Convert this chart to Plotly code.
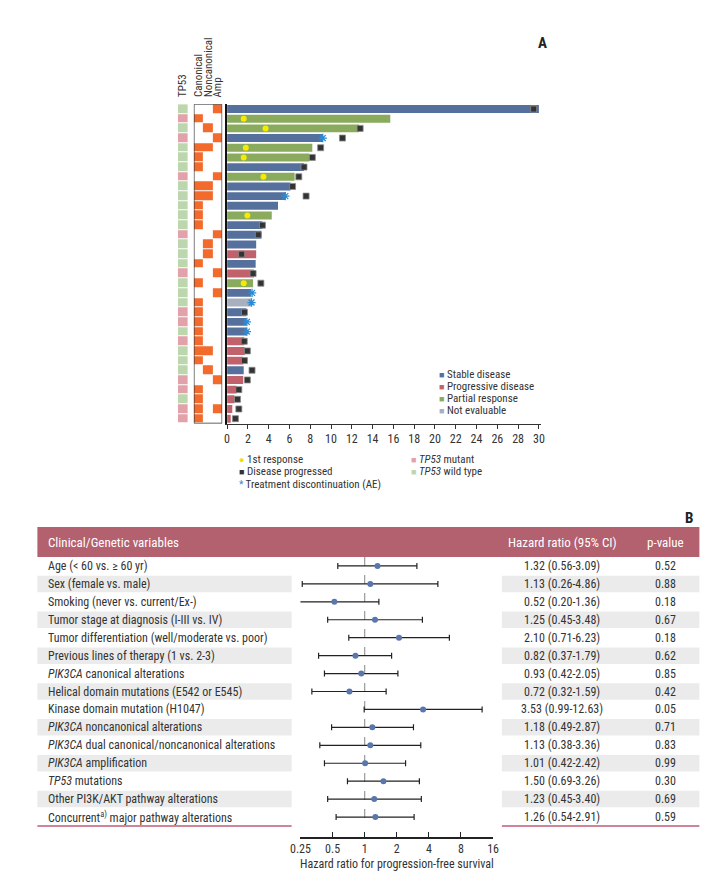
import math
import plotly.graph_objects as go

W, H = 723, 892
FONT = "Liberation Sans Narrow, Arial Narrow, Roboto Condensed, Liberation Sans, sans-serif"


def px(x):
    return x / W


def py(y):
    return 1 - y / H


# ---------------- Panel A data ----------------
rows = list(range(1, 34))
duration = [30.0, 15.7, 12.7, 9.2, 8.2, 7.9, 7.4, 6.5, 6.1, 5.6, 4.9, 4.3, 3.4, 3.3, 2.8, 2.8,
            2.75, 2.6, 2.5, 2.3, 2.3, 1.85, 1.85, 1.9, 1.65, 1.7, 1.55, 1.6, 1.55, 0.9, 0.7, 0.5, 0.35]
response = ['SD', 'PR', 'PR', 'SD', 'PR', 'PR', 'SD', 'PR', 'SD', 'SD', 'SD', 'PR', 'SD', 'SD', 'SD', 'PD',
            'SD', 'PD', 'PR', 'SD', 'NE', 'SD', 'SD', 'SD', 'PD', 'PD', 'PD', 'SD', 'PD', 'PD', 'PD', 'PD', 'PD']
first_response = [None, 1.6, 3.7, None, 1.8, 1.6, None, 3.5, None, None, None, 1.95, None, None, None, None,
                  None, None, 1.6, None, None, None, None, None, None, None, None, None, None, None, None, None, None]
progressed = [29.5, None, 12.8, 11.1, 9.0, 8.2, 7.4, 6.9, 6.3, 7.6, None, None, 3.4, 3.0, None, 1.4,
              None, 2.5, 3.25, None, None, 1.67, None, None, 1.65, 1.95, 1.67, 2.4, 1.95, 1.13, 1.0, 1.13, 0.8]
discontinued = [None, None, None, 9.2, None, None, None, None, None, 5.6, None, None, None, None, None, None,
                None, None, None, 2.4, 2.35, None, 1.9, 1.9, None, None, None, None, None, None, None, None, None]
tp53 = ['W', 'M', 'W', 'M', 'W', 'W', 'W', 'M', 'W', 'W', 'W', 'W', 'W', 'M', 'W', 'W',
        'W', 'M', 'W', 'W', 'W', 'M', 'M', 'W', 'M', 'W', 'W', 'W', 'M', 'M', 'W', 'M', 'M']
canonical = [0, 1, 0, 0, 1, 1, 1, 0, 1, 1, 1, 1, 1, 0, 0, 0,
             1, 0, 1, 0, 1, 1, 1, 1, 1, 1, 1, 0, 0, 1, 1, 1, 1]
noncanonical = [0, 0, 1, 0, 1, 0, 0, 0, 1, 1, 0, 0, 0, 0, 1, 1,
                0, 0, 0, 0, 0, 0, 0, 0, 0, 1, 0, 1, 0, 0, 0, 0, 0]
amp = [1, 0, 0, 1, 0, 0, 0, 1, 0, 0, 0, 0, 0, 1, 0, 0,
       0, 1, 0, 1, 0, 0, 0, 0, 0, 0, 0, 0, 1, 0, 0, 1, 0]
alt_columns = ["Canonical", "Noncanonical", "Amp"]
x_ticks_a = list(range(0, 31, 2))

resp_order = ['SD', 'PD', 'PR', 'NE']
resp_names = {'SD': 'Stable disease', 'PD': 'Progressive disease',
              'PR': 'Partial response', 'NE': 'Not evaluable'}
resp_colors = {'SD': '#56709e', 'PD': '#c0616c', 'PR': '#8aaa5d', 'NE': '#a8b0c0'}
TP53_MUT = '#e2a2aa'
TP53_WT = '#bcd6ae'
ORANGE = '#f26a2c'
AE_BLUE = '#2a8bd6'

# ---------------- Panel B data ----------------
variables = [
    "Age (< 60 vs. ≥ 60 yr)",
    "Sex (female vs. male)",
    "Smoking (never vs. current/Ex-)",
    "Tumor stage at diagnosis (I-III vs. IV)",
    "Tumor differentiation (well/moderate vs. poor)",
    "Previous lines of therapy (1 vs. 2-3)",
    "<i>PIK3CA</i> canonical alterations",
    "Helical domain mutations (E542 or E545)",
    "Kinase domain mutation (H1047)",
    "<i>PIK3CA</i> noncanonical alterations",
    "<i>PIK3CA</i> dual canonical/noncanonical alterations",
    "<i>PIK3CA</i> amplification",
    "<i>TP53</i> mutations",
    "Other PI3K/AKT pathway alterations",
    "Concurrent<sup>a)</sup> major pathway alterations",
]
hr = [1.32, 1.13, 0.52, 1.25, 2.10, 0.82, 0.93, 0.72, 3.53, 1.18, 1.13, 1.01, 1.50, 1.23, 1.26]
ci_low = [0.56, 0.26, 0.20, 0.45, 0.71, 0.37, 0.42, 0.32, 0.99, 0.49, 0.38, 0.42, 0.69, 0.45, 0.54]
ci_high = [3.09, 4.86, 1.36, 3.48, 6.23, 1.79, 2.05, 1.59, 12.63, 2.87, 3.36, 2.42, 3.26, 3.40, 2.91]
p_values = ["0.52", "0.88", "0.18", "0.67", "0.18", "0.62", "0.85", "0.42", "0.05", "0.71",
            "0.83", "0.99", "0.30", "0.69", "0.59"]
hr_ticks = [0.25, 0.5, 1, 2, 4, 8, 16]
hr_ticktext = ["0.25", "0.5", "1", "2", "4", "8", "16"]

fig = go.Figure()

# ---- bars ----
for key in resp_order:
    ys = [r for r, s in zip(rows, response) if s == key]
    xs = [d for d, s in zip(duration, response) if s == key]
    fig.add_trace(go.Bar(x=xs, y=ys, orientation='h', width=0.82,
                         marker=dict(color=resp_colors[key], line=dict(width=0)),
                         name=resp_names[key], xaxis='x', yaxis='y', hoverinfo='skip'))

fig.add_trace(go.Scatter(x=progressed, y=rows, mode='markers', xaxis='x', yaxis='y',
                         marker=dict(symbol='square', size=6, color='#333333',
                                     line=dict(color='#8c8c8c', width=0.8)),
                         name='Disease progressed', hoverinfo='skip'))
fig.add_trace(go.Scatter(x=first_response, y=rows, mode='markers', xaxis='x', yaxis='y',
                         marker=dict(symbol='circle', size=6, color='#f7ea00'),
                         name='1st response', hoverinfo='skip'))
fig.add_trace(go.Scatter(x=discontinued, y=rows, mode='markers', xaxis='x', yaxis='y',
                         marker=dict(symbol='asterisk-open', size=7, color=AE_BLUE,
                                     line=dict(color=AE_BLUE, width=1.3)),
                         name='Treatment discontinuation (AE)', hoverinfo='skip'))

# ---- TP53 column ----
tp53_z = [[1 if s == 'M' else 0] for s in tp53]
fig.add_trace(go.Heatmap(z=tp53_z, x=[0], y=rows, xaxis='x2', yaxis='y', zmin=0, zmax=1,
                         colorscale=[[0, TP53_WT], [0.5, TP53_WT], [0.5, TP53_MUT], [1, TP53_MUT]],
                         showscale=False, ygap=1, hoverinfo='skip'))

# ---- alteration matrix ----
alt_z = [[c, n, a] for c, n, a in zip(canonical, noncanonical, amp)]
fig.add_trace(go.Heatmap(z=alt_z, x=[0, 1, 2], y=rows, xaxis='x3', yaxis='y', zmin=0, zmax=1,
                         colorscale=[[0, 'white'], [0.5, 'white'], [0.5, ORANGE], [1, ORANGE]],
                         showscale=False, ygap=1, hoverinfo='skip'))

# ---- forest plot ----
frows = list(range(1, len(variables) + 1))
fig.add_trace(go.Scatter(x=hr, y=frows, mode='markers', xaxis='x4', yaxis='y4',
                         marker=dict(size=6, color='#5a77ad'),
                         error_x=dict(type='data', symmetric=False,
                                      array=[h - m for h, m in zip(ci_high, hr)],
                                      arrayminus=[m - l for m, l in zip(hr, ci_low)],
                                      color='#222222', thickness=1.2, width=3),
                         hoverinfo='skip'))

# ---------------- layout ----------------
X025, X16 = 297, 494
LEFT_END, RIGHT_START, RIGHT_END, TAB_LEFT = 288, 503, 705, 28
HR_X, P_X = 565, 670
ROW_TOP, ROW_BOT = 557, 826

shapes = []
annotations = []

# alteration box frame
shapes.append(dict(type='rect', xref='x3', yref='y', x0=-0.5, x1=2.5, y0=0.5, y1=len(rows) + 0.5,
                   line=dict(color='#333333', width=1.3), fillcolor='rgba(0,0,0,0)', layer='above'))

# header band of table
shapes.append(dict(type='rect', xref='paper', yref='paper', x0=px(TAB_LEFT), x1=px(RIGHT_END),
                   y0=py(ROW_TOP), y1=py(527), fillcolor='#b3606f', line=dict(width=0), layer='below'))
# shaded rows
for i in frows:
    if i % 2 == 0:
        for x0, x1 in [(TAB_LEFT, LEFT_END), (RIGHT_START, RIGHT_END)]:
            shapes.append(dict(type='rect', xref='paper', yref='y4', x0=px(x0), x1=px(x1),
                               y0=i - 0.46, y1=i + 0.46, fillcolor='#ebebeb',
                               line=dict(width=0), layer='below'))
# bottom pink rules
for x0, x1 in [(TAB_LEFT, LEFT_END), (RIGHT_START, RIGHT_END)]:
    shapes.append(dict(type='line', xref='paper', yref='paper', x0=px(x0), x1=px(x1),
                       y0=py(ROW_BOT), y1=py(ROW_BOT), line=dict(color='#c25b75', width=1.5)))
# reference line HR = 1
shapes.append(dict(type='line', xref='x4', yref='y4', x0=1, x1=1, y0=0.5, y1=len(frows) + 0.5,
                   line=dict(color='#a0a0a0', width=1.3, dash='dash'), layer='below'))

# panel labels
annotations.append(dict(text='<b>A</b>', x=px(551), y=py(32), xref='paper', yref='paper',
                        showarrow=False, font=dict(size=15, color='#222')))
annotations.append(dict(text='<b>B</b>', x=px(700), y=py(518), xref='paper', yref='paper',
                        showarrow=False, font=dict(size=15, color='#222')))

# column labels of matrices
annotations.append(dict(text='TP53', x=px(176.5), y=py(99), xref='paper', yref='paper',
                        textangle=-90, xanchor='center', yanchor='bottom', showarrow=False,
                        font=dict(size=11, color='#333')))
for k, lab in enumerate(alt_columns):
    annotations.append(dict(text=lab, x=k, y=py(99), xref='x3', yref='paper',
                            textangle=-90, xanchor='center', yanchor='bottom', showarrow=False,
                            font=dict(size=11, color='#333')))

# response legend
ly = [374, 386, 398, 410]
for key, yy in zip(resp_order, ly):
    annotations.append(dict(text=f'<span style="color:{resp_colors[key]};font-size:9px">■</span> {resp_names[key]}',
                            x=px(437), y=py(yy), xref='paper', yref='paper', xanchor='left',
                            yanchor='middle', showarrow=False, font=dict(size=11, color='#333')))

# marker legend
marker_leg = [('<span style="color:#f0e000;font-size:9px">●</span> 1st response', 459),
              ('<span style="color:#333333;font-size:9px">■</span> Disease progressed', 471),
              (f'<span style="color:{AE_BLUE};font-size:10px">*</span> Treatment discontinuation (AE)', 484)]
for txt, yy in marker_leg:
    annotations.append(dict(text=txt, x=px(232), y=py(yy), xref='paper', yref='paper', xanchor='left',
                            yanchor='middle', showarrow=False, font=dict(size=11, color='#333')))
tp_leg = [(f'<span style="color:{TP53_MUT};font-size:9px">■</span> <i>TP53</i> mutant', 459),
          (f'<span style="color:{TP53_WT};font-size:9px">■</span> <i>TP53</i> wild type', 471)]
for txt, yy in tp_leg:
    annotations.append(dict(text=txt, x=px(408), y=py(yy), xref='paper', yref='paper', xanchor='left',
                            yanchor='middle', showarrow=False, font=dict(size=11, color='#333')))

# table header
annotations.append(dict(text='Clinical/Genetic variables', x=px(37), y=py(542), xref='paper',
                        yref='paper', xanchor='left', showarrow=False, font=dict(size=13, color='white')))
annotations.append(dict(text='Hazard ratio (95% CI)', x=px(HR_X), y=py(542), xref='paper',
                        yref='paper', xanchor='center', showarrow=False, font=dict(size=13, color='white')))
annotations.append(dict(text='p-value', x=px(P_X), y=py(542), xref='paper',
                        yref='paper', xanchor='center', showarrow=False, font=dict(size=13, color='white')))

# table rows
for i, lab, h, lo, hi, p in zip(frows, variables, hr, ci_low, ci_high, p_values):
    annotations.append(dict(text=lab, x=px(37), y=i, xref='paper', yref='y4', xanchor='left',
                            showarrow=False, font=dict(size=12, color='#333')))
    annotations.append(dict(text=f'{h:.2f} ({lo:.2f}-{hi:.2f})', x=px(HR_X), y=i, xref='paper',
                            yref='y4', xanchor='center', showarrow=False, font=dict(size=12, color='#333')))
    annotations.append(dict(text=p, x=px(P_X), y=i, xref='paper', yref='y4', xanchor='center',
                            showarrow=False, font=dict(size=12, color='#333')))

annotations.append(dict(text='Hazard ratio for progression-free survival', x=(px(X025) + px(X16)) / 2,
                        y=py(864), xref='paper', yref='paper', xanchor='center', yanchor='middle',
                        showarrow=False, font=dict(size=12, color='#333')))

fig.update_layout(
    width=W, height=H, margin=dict(l=0, r=0, t=0, b=0),
    plot_bgcolor='rgba(0,0,0,0)', paper_bgcolor='white', showlegend=False,
    font=dict(family=FONT, size=12, color='#333'),
    barmode='overlay',
    xaxis=dict(domain=[px(222), px(543)], range=[0, 30.2], tickvals=x_ticks_a, ticks='outside',
               ticklen=4, tickcolor='#333', showline=True, linecolor='#333', linewidth=1,
               showgrid=False, zeroline=False, anchor='y', tickfont=dict(size=12, color='#333')),
    yaxis=dict(domain=[py(423.5), py(104.2)], range=[len(rows) + 0.5, 0.5], showline=True,
               linecolor='#111', linewidth=2, showticklabels=False, ticks='', showgrid=False,
               zeroline=False, anchor='x'),
    xaxis2=dict(domain=[px(171.7), px(181.7)], range=[-0.5, 0.5], visible=False, anchor='y'),
    xaxis3=dict(domain=[px(188), px(217)], range=[-0.5, 2.5], visible=False, anchor='y'),
    xaxis4=dict(domain=[px(X025), px(X16)], type='log', range=[math.log10(0.25), math.log10(16)],
                tickvals=hr_ticks, ticktext=hr_ticktext, ticks='inside', ticklen=5, tickcolor='#222',
                showline=True, linecolor='#222', linewidth=1.5, showgrid=False, zeroline=False,
                anchor='free', position=py(838), tickfont=dict(size=12, color='#333')),
    yaxis4=dict(domain=[py(ROW_BOT), py(ROW_TOP)], range=[len(frows) + 0.5, 0.5], visible=False,
                anchor='x4'),
    shapes=shapes, annotations=annotations,
)

fig.write_html("out.html", config={'displayModeBar': False},
               post_script="document.body.style.margin='0px';")
